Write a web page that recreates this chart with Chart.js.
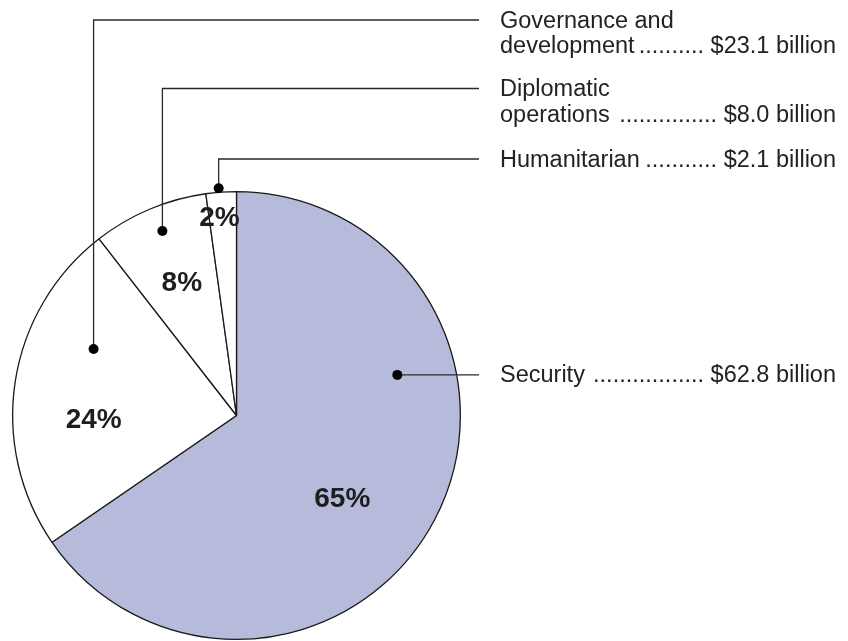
<!DOCTYPE html>
<html>
<head>
<meta charset="utf-8">
<script src="https://cdn.jsdelivr.net/npm/chart.js@4.4.1/dist/chart.umd.min.js"></script>
<style>
	html, body { margin: 0; padding: 0; background: #fff; }
	#wrap { width: 848px; height: 641px; }
</style>
</head>
<body>
<div id="wrap"><canvas id="grafic"></canvas></div>
<script>
const categorii = ['Security', 'Governance and development', 'Diplomatic operations', 'Humanitarian'];
const valori = [62.8, 23.1, 8.0, 2.1]; // $ billion
const procente = ['65%', '24%', '8%', '2%'];
const randuriNume = [['Security'], ['Governance and', 'development'], ['Diplomatic', 'operations'], ['Humanitarian']];
const valoriText = ['$62.8 billion', '$23.1 billion', '$8.0 billion', '$2.1 billion'];
const culori = ['#b7bbdb', '#ffffff', '#ffffff', '#ffffff'];

// where the dot / percent sit inside each slice (t = fraction of the slice angle, r = fraction of radius)
// yRand = baseline of the first text row (null = row follows the dot)
const asezare = [
	{ tPunct: 0.322, rPunct: 0.741, tText: 0.542, rText: 0.597, yRand: null },
	{ tPunct: 0.686, rPunct: 0.704, tText: 0.387, rText: 0.638, yRand: 27.5 },
	{ tPunct: 0.533, rPunct: 0.888, tText: 0.523, rText: 0.647, yRand: 96 },
	{ tPunct: 0.43, rPunct: 1.018, tText: 0.38, rText: 0.893, yRand: 166.5 }
];
const xText = 500, xDreapta = 836, xCapatLinie = 479, pasRand = 25.5;
const fontText = '23.5px "Liberation Sans", Arial, sans-serif';
const fontProcent = 'bold 28px "Liberation Sans", Arial, sans-serif';

function randCuPuncte(ctx, nume, valoare, baza) {
	ctx.textAlign = 'left';
	ctx.fillText(nume, xText, baza);
	ctx.textAlign = 'right';
	ctx.fillText(valoare, xDreapta, baza);
	const start = xText + ctx.measureText(nume).width + 4;
	const stop = xDreapta - ctx.measureText(valoare).width - ctx.measureText(' ').width;
	const n = Math.max(0, Math.floor((stop - start) / ctx.measureText('.').width));
	ctx.textAlign = 'right';
	ctx.fillText('.'.repeat(n), stop, baza);
}

const pluginEtichete = {
	id: 'etichete',
	afterDatasetsDraw(chart) {
		const ctx = chart.ctx;
		const arce = chart.getDatasetMeta(0).data;
		ctx.save();
		arce.forEach((arc, i) => {
			const p = arc.getProps(['x', 'y', 'startAngle', 'endAngle', 'outerRadius'], true);
			const a = asezare[i];
			const span = p.endAngle - p.startAngle;

			// procent
			const uT = p.startAngle + span * a.tText;
			const tx = p.x + Math.cos(uT) * p.outerRadius * a.rText;
			const ty = p.y + Math.sin(uT) * p.outerRadius * a.rText;
			ctx.font = fontProcent;
			ctx.fillStyle = '#1e1e1e';
			ctx.textAlign = 'center';
			ctx.textBaseline = 'alphabetic';
			ctx.fillText(procente[i], tx, ty + 10);

			// linie de legatura
			const uP = p.startAngle + span * a.tPunct;
			const px = p.x + Math.cos(uP) * p.outerRadius * a.rPunct;
			const py = p.y + Math.sin(uP) * p.outerRadius * a.rPunct;
			const baza = a.yRand === null ? py + 7.5 : a.yRand;
			const yLinie = baza - 7.5;
			ctx.strokeStyle = '#2a2a2a';
			ctx.lineWidth = 1.3;
			ctx.beginPath();
			ctx.moveTo(px, py);
			ctx.lineTo(px, yLinie);
			ctx.lineTo(xCapatLinie, yLinie);
			ctx.stroke();
			ctx.fillStyle = '#000';
			ctx.beginPath();
			ctx.arc(px, py, 5, 0, Math.PI * 2);
			ctx.fill();

			// text
			ctx.font = fontText;
			ctx.fillStyle = '#222';
			const randuri = randuriNume[i];
			randuri.forEach((r, k) => {
				const y = baza + k * pasRand;
				if (k < randuri.length - 1) {
					ctx.textAlign = 'left';
					ctx.fillText(r, xText, y);
				} else {
					randCuPuncte(ctx, r, valoriText[i], y);
				}
			});
		});
		ctx.restore();
	}
};

window.addEventListener('load', function () {
	new Chart(document.getElementById('grafic'), {
		type: 'pie',
		data: {
			labels: categorii,
			datasets: [{
				data: valori,
				backgroundColor: culori,
				borderColor: '#1a1a1a',
				borderWidth: 1.3,
				hoverOffset: 0
			}]
		},
		options: {
			responsive: true,
			maintainAspectRatio: false,
			animation: false,
			events: [],
			layout: { padding: { left: 12, top: 191, right: 387, bottom: 1 } },
			plugins: {
				legend: { display: false },
				tooltip: { enabled: false }
			}
		},
		plugins: [pluginEtichete]
	});
});
</script>
</body>
</html>
